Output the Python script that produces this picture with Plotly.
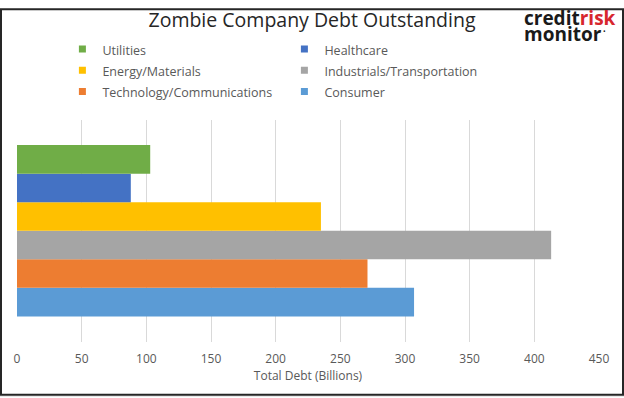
import plotly.graph_objects as go

categories = ["Utilities", "Healthcare", "Energy/Materials", "Industrials/Transportation",
              "Technology/Communications", "Consumer"]
values = [103, 88, 235, 413, 271, 307]
colors = ["#70AD47", "#4472C4", "#FFC000", "#A5A5A5", "#ED7D31", "#5B9BD5"]
x_ticks = [0, 50, 100, 150, 200, 250, 300, 350, 400, 450]

W, H = 624, 398
L, R, T, B = 17, 25, 114, 56
pw, ph = W - L - R, H - T - B

fig = go.Figure()
# plotly stacks grouped horizontal bars bottom-up, so add in reverse
for name, v, c in reversed(list(zip(categories, values, colors))):
    fig.add_trace(go.Bar(
        y=["Debt"], x=[v], name=name, orientation="h", showlegend=False,
        marker=dict(color=c, line=dict(width=0)),
    ))
# legend entries with small square swatches
for name, c in zip(categories, colors):
    fig.add_trace(go.Scatter(
        x=[None], y=[None], mode="markers",
        name=f"<span style='font-size:12.5px'>{name}</span>",
        marker=dict(symbol="square", size=7, color=c),
    ))

font_family = "Open Sans"
fig.update_layout(
    width=W, height=H,
    margin=dict(l=L, r=R, t=T, b=B),
    paper_bgcolor="white", plot_bgcolor="white",
    barmode="group", bargap=0.23, bargroupgap=0,
    font=dict(family=font_family, color="#595959", size=12),
    title=dict(text="Zombie Company Debt Outstanding", x=0.5, xref="container",
               y=1 - 20.5 / H, yref="container", xanchor="center", yanchor="middle",
               font=dict(size=19.5, color="#262626", family=font_family)),
    legend=dict(orientation="h", x=0.1, xref="container",
                y=1 - 33.5 / H, yref="container", xanchor="left", yanchor="top",
                entrywidth=177, entrywidthmode="pixels", itemsizing="trace",
                font=dict(size=14, color="#595959"), bgcolor="rgba(0,0,0,0)"),
    xaxis=dict(range=[0, 450], tickvals=x_ticks, showgrid=True, gridcolor="#D9D9D9",
               gridwidth=1, zeroline=False, showline=False, ticks="outside", ticklen=6,
               tickcolor="rgba(0,0,0,0)",
               title=dict(text="Total Debt (Billions)", standoff=3,
                          font=dict(size=12, color="#595959"))),
    yaxis=dict(showticklabels=False, showgrid=False, zeroline=False, showline=False),
    showlegend=True,
)

# logo
fig.add_annotation(text="<b>credit<span style='color:#D7262E'>risk</span></b>",
                   xref="paper", yref="paper", x=(522 - L) / pw, y=1 + (T - 10) / ph,
                   xanchor="left", yanchor="middle", showarrow=False,
                   font=dict(size=19, color="#1A1A1A", family=font_family))
fig.add_annotation(text="<b>monitor</b>",
                   xref="paper", yref="paper", x=(522 - L) / pw, y=1 + (T - 26) / ph,
                   xanchor="left", yanchor="middle", showarrow=False,
                   font=dict(size=19, color="#1A1A1A", family=font_family))
fig.add_annotation(text="•",
                   xref="paper", yref="paper", x=(601 - L) / pw, y=1 + (T - 24) / ph,
                   xanchor="left", yanchor="middle", showarrow=False,
                   font=dict(size=7, color="#1A1A1A", family=font_family))

# outer frame
fig.add_shape(type="rect", xref="paper", yref="paper",
              x0=(1 - L) / pw, x1=(623 - L) / pw,
              y0=-(396 - T - ph) / ph, y1=1 + (T - 1) / ph,
              line=dict(color="#262626", width=2), fillcolor="rgba(0,0,0,0)", layer="above")
# light strip below the frame
fig.add_shape(type="rect", xref="paper", yref="paper",
              x0=-L / pw, x1=(W - L) / pw,
              y0=-(H - T - ph) / ph, y1=-(397 - T - ph) / ph,
              line=dict(width=0), fillcolor="#E0E0E0", layer="below")

fig.write_html("out.html", config={"displayModeBar": False},
               post_script="document.body.style.margin='0';")
